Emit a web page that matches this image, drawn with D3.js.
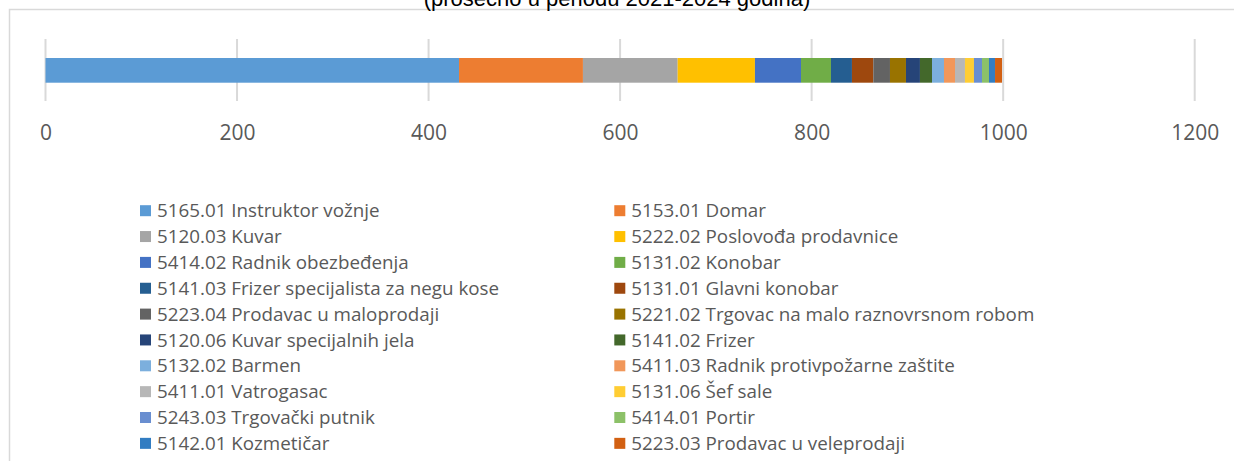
<!DOCTYPE html>
<html>
<head>
<meta charset="utf-8">
<script src="https://cdn.jsdelivr.net/npm/d3@7"></script>
<style>
  body { margin: 0; background: #fff; }
  svg { display: block; }
</style>
</head>
<body>
<div id="chart"></div>
<script>
// data (averages, so not whole numbers)
const occupations = [
    "5165.01 Instruktor vožnje", "5153.01 Domar",
    "5120.03 Kuvar", "5222.02 Poslovođa prodavnice",
    "5414.02 Radnik obezbeđenja", "5131.02 Konobar",
    "5141.03 Frizer specijalista za negu kose", "5131.01 Glavni konobar",
    "5223.04 Prodavac u maloprodaji", "5221.02 Trgovac na malo raznovrsnom robom",
    "5120.06 Kuvar specijalnih jela", "5141.02 Frizer",
    "5132.02 Barmen", "5411.03 Radnik protivpožarne zaštite",
    "5411.01 Vatrogasac", "5131.06 Šef sale",
    "5243.03 Trgovački putnik", "5414.01 Portir",
    "5142.01 Kozmetičar", "5223.03 Prodavac u veleprodaji"
];
const values = [431.8, 129.4, 98.9, 80.7, 48.1, 31.3, 21.9, 22.3, 17.4, 16.7,
    14.6, 12.6, 12.5, 11.5, 10.4, 9.4, 8.4, 7.3, 6.3, 7.3];
const colors = [
    "#5B9BD5", "#ED7D31", "#A5A5A5", "#FFC000", "#4472C4", "#70AD47",
    "#255E91", "#9E480E", "#636363", "#997300", "#264478", "#43682B",
    "#7CAFDD", "#F1975A", "#B7B7B7", "#FFCD33", "#698ED0", "#8CC168",
    "#327DC2", "#D26012"
];
const ticks = [0, 200, 400, 600, 800, 1000, 1200];
const title = "(prosečno u periodu 2021-2024 godina)";

const W = 1234, H = 461;

const svg = d3.select("#chart")
    .append("svg")
    .attr("width", W)
    .attr("height", H);

// chart border
svg.append("rect")
    .attr("x", 9.5).attr("y", 9.5)
    .attr("width", 1300).attr("height", 500)
    .attr("fill", "none")
    .attr("stroke", "#D9D9D9")
    .attr("stroke-width", 1.5);

// title, cut off at the top like in the source
svg.append("text")
    .attr("x", W / 2)
    .attr("y", 6)
    .attr("text-anchor", "middle")
    .attr("font-family", "Liberation Sans, Arial, sans-serif")
    .attr("font-size", 22)
    .attr("fill", "#000")
    .text(title);

const x = d3.scaleLinear()
    .domain([0, 1200])
    .range([45.5, 1194.7]);

const barTop = 58, barH = 24.7;

// gridlines
svg.selectAll("line.grid")
    .data(ticks)
    .enter()
    .append("line")
    .attr("class", "grid")
    .attr("x1", d => x(d)).attr("x2", d => x(d))
    .attr("y1", 39).attr("y2", 101)
    .attr("stroke", "#D9D9D9")
    .attr("stroke-width", 2);

// stacked segments
const stacked = [];
let acc = 0;
values.forEach(function (v, i) {
    stacked.push({ key: occupations[i], x0: acc, x1: acc + v, color: colors[i] });
    acc += v;
});

svg.selectAll("rect.seg")
    .data(stacked)
    .enter()
    .append("rect")
    .attr("class", "seg")
    .attr("x", d => x(d.x0))
    .attr("y", barTop)
    .attr("width", d => x(d.x1) - x(d.x0))
    .attr("height", barH)
    .attr("fill", d => d.color);

// x axis labels
const xAxis = svg.append("g")
    .attr("transform", "translate(0,125)")
    .call(d3.axisBottom(x).tickValues(ticks).tickSize(0).tickPadding(0).tickFormat(d3.format("d")));
xAxis.select(".domain").remove();
xAxis.selectAll("text")
    .attr("font-family", "Open Sans, sans-serif")
    .attr("font-size", 21)
    .attr("fill", "#595959")
    .attr("dy", "0.71em");

// legend, two columns
const colX = [140, 614.3];
const legend = svg.selectAll("g.legend")
    .data(occupations)
    .enter()
    .append("g")
    .attr("class", "legend")
    .attr("transform", function (d, i) {
        return "translate(" + colX[i % 2] + "," + (210.7 + Math.floor(i / 2) * 25.85) + ")";
    });

legend.append("rect")
    .attr("x", 0).attr("y", -5.5)
    .attr("width", 11).attr("height", 11)
    .attr("fill", (d, i) => colors[i]);

legend.append("text")
    .attr("x", 17)
    .attr("dy", "0.35em")
    .attr("font-family", "Open Sans, sans-serif")
    .attr("font-size", 18.8)
    .attr("fill", "#595959")
    .text(d => d);
</script>
</body>
</html>
